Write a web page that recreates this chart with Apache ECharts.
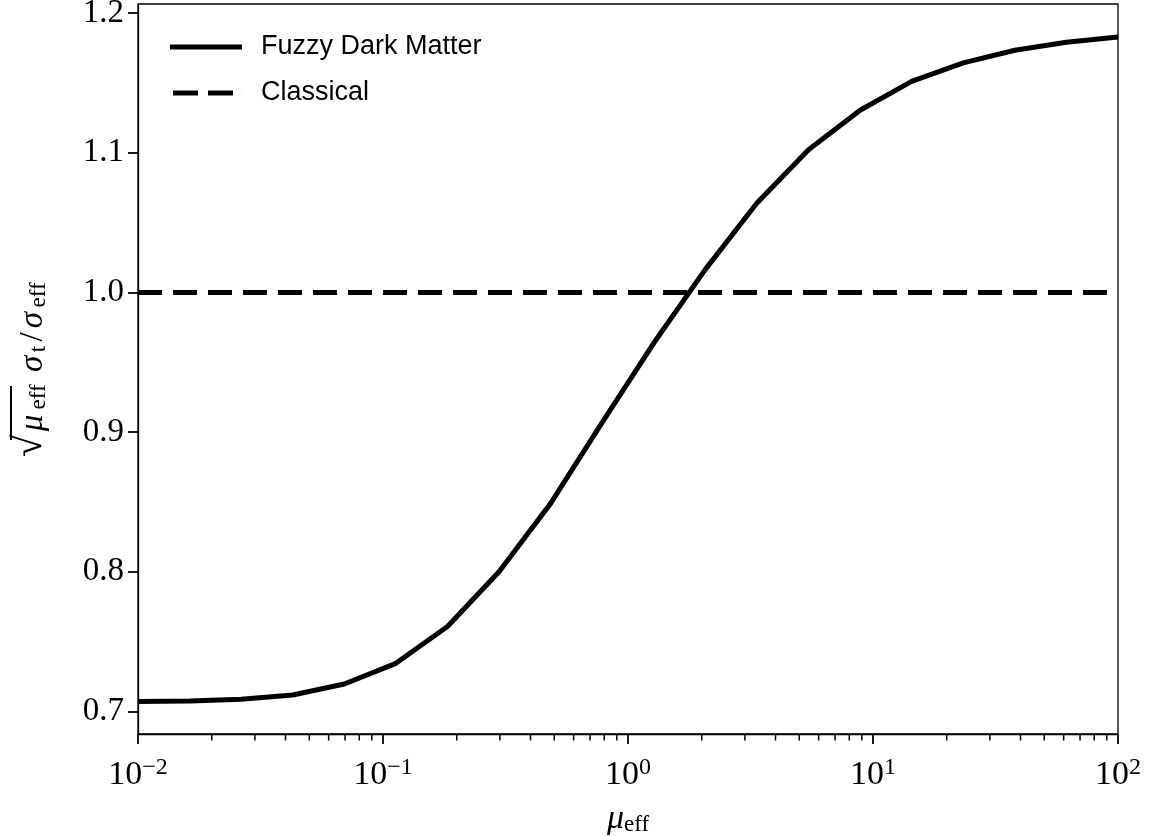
<!DOCTYPE html>
<html>
<head>
<meta charset="utf-8">
<script src="https://cdn.jsdelivr.net/npm/echarts@6/dist/echarts.min.js"></script>
<style>
html,body{margin:0;padding:0;background:#fff;}
#chart{width:1151px;height:836px;}
</style>
</head>
<body>
<div id="chart"></div>
<script>
// ---- data ----
const muValues = [0.01, 0.01624, 0.02637, 0.04281, 0.06952, 0.1129, 0.1833, 0.2976, 0.4833, 0.7848,
                  1.274, 2.069, 3.360, 5.456, 8.859, 14.38, 23.36, 37.93, 61.58, 100];
const fdmValues = [0.7071, 0.7075, 0.7088, 0.7118, 0.7197, 0.7345, 0.7608, 0.8001, 0.849, 0.907,
                   0.9638, 1.0165, 1.064, 1.1022, 1.1304, 1.1511, 1.1643, 1.1734, 1.1791, 1.1829];
const classicalX = [0.01, 100];
const classicalY = [1.0, 1.0];
const seriesNames = ['Fuzzy Dark Matter', 'Classical'];
const yTicks = [0.7, 0.8, 0.9, 1.0, 1.1, 1.2];
const xTicks = [0.01, 0.1, 1, 10, 100];
const xMinorTicks = [0.02,0.03,0.04,0.05,0.06,0.07,0.08,0.09,
                     0.2,0.3,0.4,0.5,0.6,0.7,0.8,0.9,
                     2,3,4,5,6,7,8,9,
                     20,30,40,50,60,70,80,90];
const yMin = 0.6839, yMax = 1.2065;
const xMin = 0.01, xMax = 100;

const fdmData = muValues.map((m, i) => [m, fdmValues[i]]);
const classicalData = classicalX.map((m, i) => [m, classicalY[i]]);
const minorData = xMinorTicks.map(v => [v, yMin]);

const serif = '"Liberation Serif", "DejaVu Serif", serif';
const sans = '"Liberation Sans", "DejaVu Sans", sans-serif';

const chart = echarts.init(document.getElementById('chart'), null, {renderer: 'canvas'});

function supLabel(v) {
  const e = Math.round(Math.log10(v));
  const s = e < 0 ? '\u2212' + Math.abs(e) : String(e);
  return '{b|10}{s|' + s + '}';
}

const option = {
  animation: false,
  backgroundColor: '#fff',
  grid: {left: 138, right: 33, top: 4, bottom: 102, show: true, borderColor: '#000', borderWidth: 1.3,
         containLabel: false, outerBoundsMode: 'none'},
  legend: {
    left: 165, top: 27, orient: 'vertical',
    itemWidth: 72, itemHeight: 30, itemGap: 16,
    textStyle: {fontFamily: sans, fontSize: 27, color: '#000', lineHeight: 30, padding: [0, 0, 0, 14]},
    data: [
      {name: seriesNames[0], icon: 'path://M0,0L72,0L72,5L0,5Z', itemStyle: {color: '#000'}},
      {name: seriesNames[1], icon: 'path://M0,0L0.05,0L0.05,5L0,5Z M3,0L28,0L28,5L3,5Z M38,0L63,0L63,5L38,5Z M71.95,0L72,0L72,5L71.95,5Z', itemStyle: {color: '#000'}}
    ]
  },
  xAxis: {
    type: 'log', logBase: 10, min: xMin, max: xMax,
    name: '{m|\u03bc}{e|eff}', nameLocation: 'middle', nameGap: 66,
    nameTextStyle: {
      rich: {
        m: {fontFamily: serif, fontStyle: 'italic', fontSize: 34, color: '#000', lineHeight: 36, verticalAlign: 'bottom'},
        e: {fontFamily: serif, fontSize: 23, color: '#000', lineHeight: 36, verticalAlign: 'bottom'}
      }
    },
    axisLine: {lineStyle: {color: '#000', width: 1.3}},
    axisTick: {customValues: xTicks, length: 10, lineStyle: {color: '#000', width: 1.8}},
    axisLabel: {
      customValues: xTicks, margin: 22,
      formatter: supLabel,
      rich: {
        b: {fontFamily: serif, fontSize: 34, color: '#000', lineHeight: 36, verticalAlign: 'bottom'},
        s: {fontFamily: serif, fontSize: 24, color: '#000', lineHeight: 36, verticalAlign: 'top'}
      }
    },
    splitLine: {show: false},
    minorTick: {show: false}
  },
  yAxis: {
    type: 'value', min: yMin, max: yMax,
    name: '{sp|}{bar|}{sp2|}\n{r|\u221a}{m|\u03bc}{e|eff}{r2| \u03c3}{t|t}{r3|/}{s|\u03c3}{e2|eff}',
    nameLocation: 'middle', nameRotate: 90, nameGap: 88,
    nameTextStyle: {
      align: 'center',
      rich: {
        sp: {width: 24, height: 2, lineHeight: 2},
        bar: {width: 54, height: 2, lineHeight: 2, backgroundColor: '#000'},
        sp2: {width: 112, height: 2, lineHeight: 2},
        r: {fontFamily: serif, fontSize: 40, color: '#000', width: 24, lineHeight: 38, verticalAlign: 'bottom'},
        m: {fontFamily: serif, fontStyle: 'italic', fontSize: 33, color: '#000', width: 22, lineHeight: 38, verticalAlign: 'bottom'},
        e: {fontFamily: serif, fontSize: 23, color: '#000', width: 30, lineHeight: 38, verticalAlign: 'bottom'},
        r2: {fontFamily: serif, fontStyle: 'italic', fontSize: 33, color: '#000', width: 28, lineHeight: 38, verticalAlign: 'bottom', align: 'right'},
        t: {fontFamily: serif, fontSize: 23, color: '#000', width: 10, lineHeight: 38, verticalAlign: 'bottom'},
        r3: {fontFamily: serif, fontSize: 33, color: '#000', width: 14, lineHeight: 38, verticalAlign: 'bottom'},
        s: {fontFamily: serif, fontStyle: 'italic', fontSize: 33, color: '#000', width: 20, lineHeight: 38, verticalAlign: 'bottom'},
        e2: {fontFamily: serif, fontSize: 23, color: '#000', width: 30, lineHeight: 38, verticalAlign: 'bottom'}
      }
    },
    axisLine: {show: true, lineStyle: {color: '#000', width: 1.3}},
    axisTick: {show: true, customValues: yTicks, length: 10, lineStyle: {color: '#000', width: 1.8}},
    axisLabel: {
      customValues: yTicks, margin: 14,
      fontFamily: serif, fontSize: 33, color: '#000',
      formatter: v => v.toFixed(1)
    },
    splitLine: {show: false}
  },
  series: [
    {
      name: seriesNames[0], type: 'line', data: fdmData, symbol: 'none', clip: false,
      lineStyle: {color: '#000', width: 5, join: 'round', cap: 'butt'},
      itemStyle: {color: '#000'}, z: 3
    },
    {
      name: seriesNames[1], type: 'line', data: classicalData, symbol: 'none',
      lineStyle: {color: '#000', width: 5, type: [24, 11], cap: 'butt'},
      itemStyle: {color: '#000'}, z: 3
    },
    {
      name: 'minor', type: 'custom', data: minorData, clip: false, silent: true, z: 4,
      renderItem: function (params, api) {
        const p = api.coord([api.value(0), api.value(1)]);
        return {type: 'line', shape: {x1: p[0], y1: p[1], x2: p[0], y2: p[1] + 6.5},
                style: {stroke: '#000', lineWidth: 1.5}};
      }
    }
  ]
};
chart.setOption(option);
</script>
</body>
</html>
